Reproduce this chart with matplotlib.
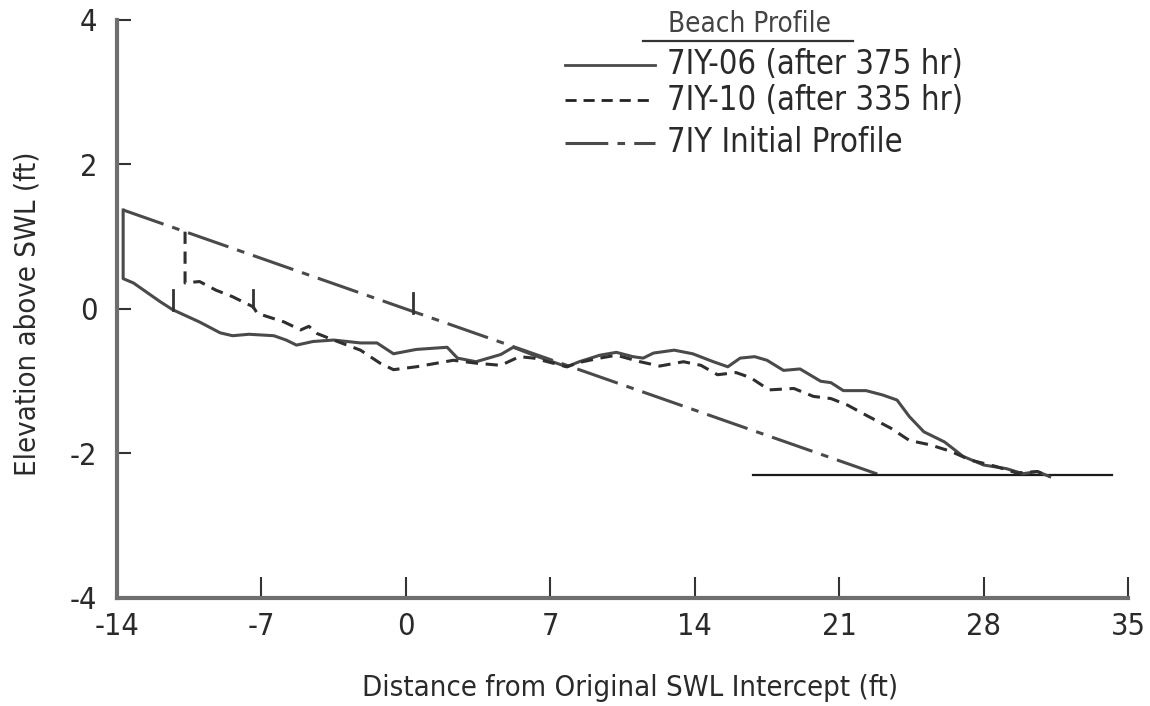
import matplotlib
matplotlib.use("Agg")
import matplotlib.pyplot as plt

# ---- data ----
initial_x = [-13.7, 23.0]
initial_y = [1.37, -2.30]

floor_x = [16.8, 34.2]
floor_y = [-2.30, -2.30]

p06_x = [-13.7, -13.7, -13.2, -11.9, -11.3, -10.0, -9.0, -8.4, -7.6, -6.4, -5.8, -5.3, -4.5,
         -3.5, -2.2, -1.4, -0.6, 0.5, 2.0, 2.5, 3.4, 4.6, 5.2, 6.2, 7.8, 8.4, 9.4, 10.2,
         11.0, 11.5, 12.0, 13.0, 13.9, 14.9, 15.6, 16.2, 16.9, 17.5, 18.3, 19.1, 20.1,
         20.6, 21.2, 22.3, 23.1, 23.8, 24.4, 25.1, 26.1, 27.0, 28.0, 29.1, 29.9, 30.6, 31.2]
p06_y = [1.37, 0.42, 0.36, 0.10, -0.01, -0.18, -0.33, -0.37, -0.35, -0.37, -0.43, -0.50, -0.45,
         -0.43, -0.47, -0.47, -0.62, -0.56, -0.53, -0.68, -0.73, -0.63, -0.53, -0.64, -0.80,
         -0.73, -0.64, -0.60, -0.66, -0.68, -0.61, -0.57, -0.62, -0.73, -0.80, -0.68, -0.66,
         -0.71, -0.85, -0.83, -1.00, -1.02, -1.13, -1.13, -1.19, -1.26, -1.49, -1.70, -1.84,
         -2.04, -2.16, -2.21, -2.28, -2.25, -2.32]

p10_x = [-10.7, -10.7, -10.0, -9.2, -8.4, -7.4, -7.2, -5.9, -5.1, -4.7, -4.3, -3.5, -2.2,
         -1.25, -0.6, 0.5, 2.3, 3.4, 4.6, 5.5, 6.2, 7.8, 8.4, 9.4, 10.2, 11.35, 12.3, 13.45,
         14.3, 15.1, 16.0, 16.7, 17.6, 18.8, 19.75, 20.6, 21.4, 22.3, 23.5, 24.4, 25.4,
         26.4, 27.35, 28.6, 29.6, 30.6, 31.2]
p10_y = [1.07, 0.36, 0.38, 0.26, 0.17, 0.03, -0.06, -0.18, -0.29, -0.24, -0.34, -0.43, -0.57,
         -0.75, -0.84, -0.80, -0.71, -0.75, -0.78, -0.66, -0.68, -0.80, -0.74, -0.68, -0.64,
         -0.73, -0.79, -0.73, -0.78, -0.91, -0.88, -0.95, -1.12, -1.10, -1.21, -1.24, -1.33,
         -1.47, -1.65, -1.82, -1.88, -1.97, -2.09, -2.18, -2.27, -2.25, -2.32]

# small vertical marks on each profile (x, base y, top y)
mark_x = [-11.3, -7.4, 0.35]
mark_y0 = [-0.01, 0.03, -0.05]
mark_y1 = [0.26, 0.26, 0.22]

xticks = [-14, -7, 0, 7, 14, 21, 28, 35]
xtick_labels = ["-14", "-7", "0", "7", "14", "21", "28", "35"]
yticks = [-4, -2, 0, 2, 4]
ytick_labels = ["-4", "-2", "0", "2", "4"]

legend_labels = ["7IY-06 (after 375 hr)", "7IY-10 (after 335 hr)", "7IY Initial Profile"]
legend_title = "Beach Profile"

# ---- style ----
plt.rcParams['font.family'] = ['DejaVu Sans']
plt.rcParams['font.stretch'] = 'condensed'
TXT = '#2a2a2a'
LC = '#4a4a4a'
AX = '#6e6e6e'

fig = plt.figure(figsize=(11.5, 7.06), dpi=100)
ax = fig.add_axes([0.1017, 0.153, 0.8793, 0.8187])

ax.plot(initial_x, initial_y, color=LC, lw=2.2, dashes=(14, 3, 2.5, 3))
ax.plot(floor_x, floor_y, color='#1a1a1a', lw=1.6)
ax.plot(p06_x, p06_y, color=LC, lw=2.2, solid_joinstyle='round')
ax.plot(p10_x, p10_y, color='#2f2f2f', lw=2.2, dashes=(4, 2.5))
for mx, y0, y1 in zip(mark_x, mark_y0, mark_y1):
    ax.plot([mx, mx], [y0, y1], color='#333333', lw=2)

ax.set_xlim(-14, 35)
ax.set_ylim(-4, 4)
for s in ['top', 'right']:
    ax.spines[s].set_visible(False)
for s in ['left', 'bottom']:
    ax.spines[s].set_color(AX)
    ax.spines[s].set_linewidth(3)

ax.set_xticks(xticks)
ax.set_xticklabels(xtick_labels)
ax.set_yticks(yticks)
ax.set_yticklabels(ytick_labels)
ax.tick_params(axis='x', direction='in', length=15, width=1.5, colors='#333333',
               labelsize=22, pad=10, labelcolor=TXT)
ax.tick_params(axis='y', direction='in', length=10, width=1.5, colors='#333333',
               labelsize=22, pad=14, labelcolor=TXT)

fig.text(0.548, 0.025, "Distance from Original SWL Intercept (ft)", ha='center', va='center',
         fontsize=21, color=TXT)
fig.text(0.024, 0.555, "Elevation above SWL (ft)", ha='center', va='center', rotation=90,
         fontsize=21, color=TXT)

# manual legend (in figure pixel fractions)
W, H = 1150, 706
fig.text(750 / W, 1 - 24 / H, legend_title, ha='center', va='center', fontsize=20, color='#444444')
fig.add_artist(plt.Line2D([643 / W, 853 / W], [1 - 41 / H, 1 - 41 / H], color='#333333', lw=1.6))
rows = [65, 100, 143]
styles = [dict(color=LC, lw=2), dict(color='#222222', lw=2, dashes=(4, 2.5)),
          dict(color=LC, lw=2.2, dashes=(14, 3, 2.5, 3))]
for r, lab, st in zip(rows, legend_labels, styles):
    yy = 1 - r / H
    fig.add_artist(plt.Line2D([565 / W, 655 / W], [yy, yy], **st))
    fig.text(667 / W, yy, lab, ha='left', va='center', fontsize=23.5, color=TXT)

fig.savefig("out.png", dpi=100)
